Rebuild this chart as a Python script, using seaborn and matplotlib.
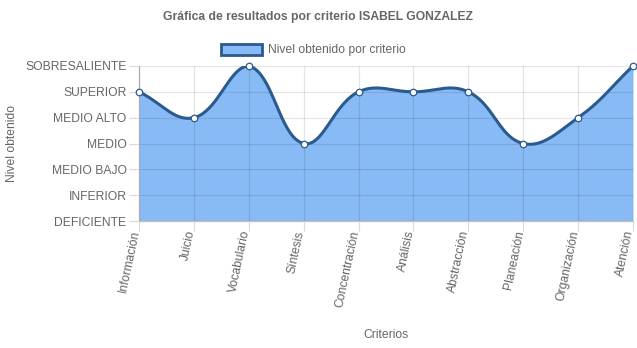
import numpy as np
import pandas as pd
import matplotlib
matplotlib.use("Agg")
import matplotlib.pyplot as plt
import matplotlib.transforms as mtransforms
from matplotlib.patches import Patch
import seaborn as sns

# ---- data ----
criterios = ["Información", "Juicio", "Vocabulario", "Síntesis", "Concentración",
             "Análisis", "Abstracción", "Planeación", "Organización", "Atención"]
niveles = ["DEFICIENTE", "INFERIOR", "MEDIO BAJO", "MEDIO", "MEDIO ALTO",
           "SUPERIOR", "SOBRESALIENTE"]
valores = [5, 4, 6, 3, 5, 5, 5, 3, 4, 6]

titulo = "Gráfica de resultados por criterio ISABEL GONZALEZ"
serie = "Nivel obtenido por criterio"

sns.set_theme(style="white")
plt.rcParams['font.family'] = ['Liberation Sans', 'DejaVu Sans']

TXT = "#666666"
FILL = "#88bbf5"
LINE = "#2b5a8e"

W, H = 637, 348
fig = plt.figure(figsize=(W / 100, H / 100), dpi=100)
L, R, T, B = 139, 633, 66, 221
ax = fig.add_axes([L / W, 1 - B / H, (R - L) / W, (B - T) / H])

# ---- Chart.js-like spline (tension 0.4), computed in pixel space ----
n = len(valores)
xs_px = (R - L) / (n - 1)
ys_px = (B - T) / (len(niveles) - 1)
px = np.arange(n) * xs_px
py = np.array(valores, dtype=float) * ys_px
t = 0.4
cp_prev = []
cp_next = []
for i in range(n):
    p0 = np.array([px[max(i - 1, 0)], py[max(i - 1, 0)]])
    p1 = np.array([px[i], py[i]])
    p2 = np.array([px[min(i + 1, n - 1)], py[min(i + 1, n - 1)]])
    d01 = np.hypot(*(p1 - p0))
    d12 = np.hypot(*(p2 - p1))
    tot = d01 + d12
    s01 = d01 / tot if tot else 0
    s12 = d12 / tot if tot else 0
    fa, fb = t * s01, t * s12
    c1 = p1 - fa * (p2 - p0)
    c2 = p1 + fb * (p2 - p0)
    ymax = (len(niveles) - 1) * ys_px
    for c in (c1, c2):
        c[0] = np.clip(c[0], 0, px[-1])
        c[1] = np.clip(c[1], 0, ymax)
    cp_prev.append(c1)
    cp_next.append(c2)

cx, cy = [], []
tt = np.linspace(0, 1, 40)
for i in range(n - 1):
    P0 = np.array([px[i], py[i]])
    P1 = cp_next[i]
    P2 = cp_prev[i + 1]
    P3 = np.array([px[i + 1], py[i + 1]])
    pts = ((1 - tt)[:, None] ** 3 * P0 + 3 * ((1 - tt) ** 2 * tt)[:, None] * P1
           + 3 * ((1 - tt) * tt ** 2)[:, None] * P2 + (tt ** 3)[:, None] * P3)
    cx.extend(pts[:, 0] / xs_px)
    cy.extend(pts[:, 1] / ys_px)
curve = pd.DataFrame({"x": cx, "y": cy})
pts_df = pd.DataFrame({"x": np.arange(n), "y": valores})

ax.fill_between(curve["x"], curve["y"], 0, color=FILL, lw=0, zorder=1)
sns.lineplot(data=curve, x="x", y="y", sort=False, color=LINE, lw=2.2, ax=ax, zorder=3)
sns.scatterplot(data=pts_df, x="x", y="y", color="white", edgecolor=LINE,
                s=22, linewidth=0.9, ax=ax, zorder=4, clip_on=False)

ax.set_xlim(0, n - 1)
ax.set_ylim(0, len(niveles) - 1)
ax.set_yticks(range(len(niveles)))
ax.set_yticklabels(niveles)
ax.set_xticks(range(n))
ax.set_xticklabels(criterios, rotation=78, ha="right", va="center", rotation_mode="anchor")
ax.tick_params(axis="y", colors=TXT, labelsize=8.7, length=7, width=0.8, left=True, pad=2)
ax.tick_params(axis="x", colors=TXT, labelsize=8.7, length=7, width=0.8, bottom=True, pad=0)
ax.tick_params(axis="both", color="#d9d9d9")
shift = mtransforms.ScaledTranslation(-3 / 100, 0, fig.dpi_scale_trans)
for lab in ax.get_xticklabels():
    lab.set_transform(lab.get_transform() + shift)
for lab in ax.get_xticklabels() + ax.get_yticklabels():
    lab.set_color(TXT)
ax.grid(True, color="black", alpha=0.1, lw=0.9)
ax.set_axisbelow(False)
for s in ax.spines.values():
    s.set_visible(False)
for side in ("left", "bottom"):
    ax.spines[side].set_visible(True)
    ax.spines[side].set_color("#bdbdbd")
    ax.spines[side].set_linewidth(0.9)

ax.set_xlabel("Criterios", color=TXT, fontsize=8.7)
ax.set_ylabel("Nivel obtenido", color=TXT, fontsize=8.7)
ax.xaxis.set_label_coords((386 - L) / (R - L), -(329 - B) / (B - T))
ax.yaxis.set_label_coords(-(L - 18) / (R - L), 0.5)

fig.text(318 / W, 1 - 17 / H, titulo, ha="center", va="center",
         fontsize=8.7, fontweight="bold", color=TXT)

handle = Patch(facecolor=FILL, edgecolor=LINE, linewidth=2)
fig.legend([handle], [serie], loc="center", bbox_to_anchor=(313 / W, 1 - 50 / H),
           frameon=False, fontsize=8.7, handlelength=3.4, handleheight=1.0,
           handletextpad=0.5, labelcolor=TXT, borderpad=0)

fig.savefig("out.png", dpi=100)
